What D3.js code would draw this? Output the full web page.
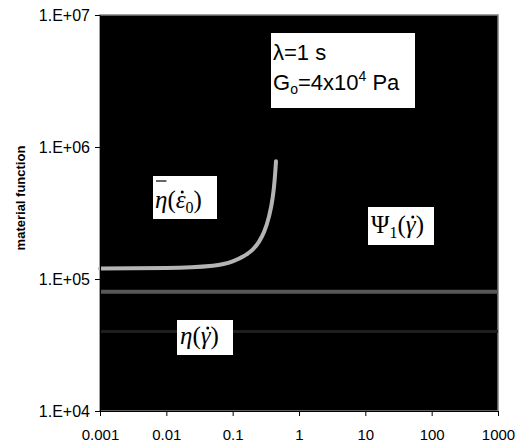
<!DOCTYPE html>
<html>
<head>
<meta charset="utf-8">
<script src="https://cdn.jsdelivr.net/npm/d3@7"></script>
<style>
  body { margin: 0; background: #fff; }
  svg { display: block; }
  .tick text { font-family: Arial, "Liberation Sans", sans-serif; font-size: 15px; fill: #000; }
  .yaxis .tick text { font-size: 16px; }
</style>
</head>
<body>
<div id="graph"></div>
<script>
// elongational viscosity (light grey curve)
const elongRate = [0.001, 0.01, 0.05, 0.1, 0.15, 0.2, 0.25, 0.3, 0.35, 0.4, 0.42, 0.44, 0.45];
const elongVisc = [1.2e5, 1.21e5, 1.26e5, 1.36e5, 1.5e5, 1.67e5, 1.92e5, 2.3e5, 2.93e5, 4.1e5, 5.0e5, 6.6e5, 7.8e5];
// first normal stress coefficient and shear viscosity (flat lines)
const shearRate = [0.001, 1000];
const psi1 = [8e4, 8e4];
const eta = [4e4, 4e4];

const xTicks = [0.001, 0.01, 0.1, 1, 10, 100, 1000];
const xTickLabels = ["0.001", "0.01", "0.1", "1", "10", "100", "1000"];
const yTicks = [1e4, 1e5, 1e6, 1e7];
const yTickLabels = ["1.E+04", "1.E+05", "1.E+06", "1.E+07"];

const width = 519, height = 444;
const margin = {left: 100, right: 21, top: 15, bottom: 33};

const svg = d3.select("#graph").append("svg")
    .attr("width", width)
    .attr("height", height);

const x = d3.scaleLog().domain([0.001, 1000]).range([margin.left, width - margin.right]);
const y = d3.scaleLog().domain([1e4, 1e7]).range([height - margin.bottom, margin.top]);

// plot area
svg.append("rect")
    .attr("x", x(0.001)).attr("y", y(1e7))
    .attr("width", x(1000) - x(0.001)).attr("height", y(1e4) - y(1e7))
    .attr("fill", "#000")
    .attr("stroke", "#808080").attr("stroke-width", 1.5);

const line = d3.line().x(d => x(d[0])).y(d => y(d[1])).curve(d3.curveMonotoneX);

svg.append("path")
    .datum(shearRate.map((r, i) => [r, eta[i]]))
    .attr("d", line).attr("fill", "none")
    .attr("stroke", "#1e1e1e").attr("stroke-width", 3);

svg.append("path")
    .datum(shearRate.map((r, i) => [r, psi1[i]]))
    .attr("d", line).attr("fill", "none")
    .attr("stroke", "#575757").attr("stroke-width", 4);

svg.append("path")
    .datum(elongRate.map((r, i) => [r, elongVisc[i]]))
    .attr("d", line).attr("fill", "none")
    .attr("stroke", "#b4b4b4").attr("stroke-width", 4)
    .attr("stroke-linecap", "round");

// axes
const xAxis = svg.append("g")
    .attr("transform", `translate(0,${y(1e4)})`)
    .call(d3.axisBottom(x).tickValues(xTicks).tickFormat((d, i) => xTickLabels[i]).tickSize(5).tickSizeOuter(0));
xAxis.selectAll("text").attr("y", 29).attr("dy", 0);

const yAxis = svg.append("g")
    .attr("class", "yaxis")
    .attr("transform", `translate(${x(0.001)},0)`)
    .call(d3.axisLeft(y).tickValues(yTicks).tickFormat((d, i) => yTickLabels[i]).tickSize(5).tickSizeOuter(0));
yAxis.selectAll("text").attr("x", -10);

svg.selectAll(".domain").attr("stroke", "#000");
svg.selectAll(".tick line").attr("stroke", "#000");

// y axis title
svg.append("text")
    .attr("transform", "translate(25,198) rotate(-90)")
    .attr("text-anchor", "middle")
    .style("font-family", "Arial, 'Liberation Sans', sans-serif")
    .style("font-size", "13px").style("font-weight", "bold")
    .text("material function");

// parameter box
svg.append("rect").attr("x", 271).attr("y", 33).attr("width", 144).attr("height", 75).attr("fill", "#fff");
const par = svg.append("text")
    .style("font-family", "Arial, 'Liberation Sans', sans-serif")
    .style("font-size", "22px");
par.append("tspan").attr("x", 273).attr("y", 60).text("λ=1 s");
const l2 = par.append("tspan").attr("x", 273).attr("y", 90);
l2.append("tspan").text("G");
l2.append("tspan").attr("dy", 4).style("font-size", "14px").text("o");
l2.append("tspan").attr("dy", -4).text("=4x10");
l2.append("tspan").attr("dy", -9).style("font-size", "14px").text("4");
l2.append("tspan").attr("dy", 9).text(" Pa");

// curve labels
const serif = "'Times New Roman', 'Liberation Serif', 'DejaVu Serif', serif";

function labelBox(bx, by, bw, bh) {
  svg.append("rect").attr("x", bx).attr("y", by).attr("width", bw).attr("height", bh).attr("fill", "#fff");
}

// dot over a glyph (time derivative)
function dotOver(tspan, lift) {
  const b = tspan.node().getBBox();
  svg.append("circle")
      .attr("cx", b.x + b.width / 2 + 1.5)
      .attr("cy", b.y + lift)
      .attr("r", 1.5).attr("fill", "#000");
}

// eta bar (epsilon dot 0)
labelBox(153, 176, 64, 43);
const t1 = svg.append("text").attr("x", 155).attr("y", 208)
    .style("font-family", serif).style("font-size", "25px");
const eta1 = t1.append("tspan").style("font-style", "italic").text("η");
t1.append("tspan").text("(");
const eps = t1.append("tspan").style("font-style", "italic").text("ε");
t1.append("tspan").attr("dy", 5).style("font-size", "16px").text("0");
t1.append("tspan").attr("dy", -5).text(")");
dotOver(eps, 6);
const eb = eta1.node().getBBox();
svg.append("line").attr("x1", eb.x + 1).attr("x2", eb.x + eb.width - 1).attr("y1", 181).attr("y2", 181)
    .attr("stroke", "#000").attr("stroke-width", 1.2);

// Psi1 (gamma dot)
labelBox(368, 207, 66, 38);
const t2 = svg.append("text").attr("x", 371).attr("y", 233)
    .style("font-family", serif).style("font-size", "25px");
t2.append("tspan").text("Ψ");
t2.append("tspan").attr("dy", 5).style("font-size", "16px").text("1");
t2.append("tspan").attr("dy", -5).text("(");
const g2 = t2.append("tspan").style("font-style", "italic").text("γ");
t2.append("tspan").text(")");
dotOver(g2, 6);

// eta (gamma dot)
labelBox(177, 320, 56, 35);
const t3 = svg.append("text").attr("x", 180).attr("y", 344)
    .style("font-family", serif).style("font-size", "25px");
t3.append("tspan").style("font-style", "italic").text("η");
t3.append("tspan").text("(");
const g3 = t3.append("tspan").style("font-style", "italic").text("γ");
t3.append("tspan").text(")");
dotOver(g3, 6);
</script>
</body>
</html>
